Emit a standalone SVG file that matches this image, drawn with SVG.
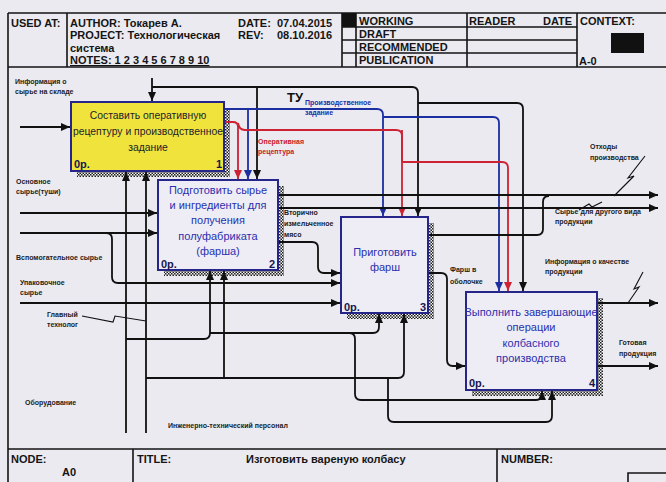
<svg xmlns="http://www.w3.org/2000/svg" width="666" height="482" viewBox="0 0 666 482">
<defs>
  <pattern id="hatch" width="3" height="3" patternUnits="userSpaceOnUse">
    <rect width="3" height="3" fill="#f4f4f4"/>
    <path d="M0,0h1.5v1.5h-1.5z M1.5,1.5h1.5v1.5h-1.5z" fill="#1e1e1e"/>
  </pattern>
  <marker id="ak" viewBox="0 0 9 8" refX="9" refY="4" markerWidth="9" markerHeight="8" markerUnits="userSpaceOnUse" orient="auto"><path d="M0,0 L9,4 L0,8 z" fill="#111"/></marker>
  <marker id="ab" viewBox="0 0 9 8" refX="9" refY="4" markerWidth="9" markerHeight="8" markerUnits="userSpaceOnUse" orient="auto"><path d="M0,0 L9,4 L0,8 z" fill="#1c2fa0"/></marker>
  <marker id="ar" viewBox="0 0 9 8" refX="9" refY="4" markerWidth="9" markerHeight="8" markerUnits="userSpaceOnUse" orient="auto"><path d="M0,0 L9,4 L0,8 z" fill="#cc2233"/></marker>
</defs>
<style>
  .fr{fill:none;stroke:#151515;stroke-width:1.6}
  .hd{font-family:"Liberation Sans",Arial,sans-serif;font-size:11px;font-weight:bold;fill:#151515}
  .box{stroke:#26268a;stroke-width:2}
  .sh{fill:url(#hatch)}
  .bt{font-family:"Liberation Sans",Arial,sans-serif;font-size:11px;fill:#2b2fae;text-anchor:middle}
  .bt1{fill:#1c1c2c;font-size:10.4px}
  .num{font-family:"Liberation Sans",Arial,sans-serif;font-size:11px;font-weight:bold;fill:#16164e}
  .lbl{font-family:"Liberation Sans",Arial,sans-serif;font-size:7px;font-weight:bold;fill:#1c1c1c}
  .lb{fill:#2030a8}
  .lr{fill:#c8202f}
  .ln{fill:none;stroke:#111;stroke-width:1.8}
  .k{marker-end:url(#ak)}
  .bl{stroke:#1c2fa0;marker-end:url(#ab)}
  .rd{stroke:#cc2233;marker-end:url(#ar)}
  .sq{fill:none;stroke:#111;stroke-width:1.1}
</style>
<rect width="666" height="482" fill="#ebeaf1"/>

<g id="header">
  <path class="fr" d="M8,13 H666 M8,67 H666 M67,13 V67 M342,13 V67 M356,13 V67 M467,13 V67 M577,13 V67 M342,27 H577 M342,40 H577 M342,53 H577"/>
  <rect x="342" y="13" width="14" height="14" fill="#111"/>
  <text class="hd" x="11" y="27">USED AT:</text>
  <text class="hd" x="70" y="27">AUTHOR: Токарев А.</text>
  <text class="hd" x="238" y="27">DATE:</text>
  <text class="hd" x="277" y="27">07.04.2015</text>
  <text class="hd" x="70" y="39">PROJECT: Технологическая</text>
  <text class="hd" x="238" y="39">REV:</text>
  <text class="hd" x="277" y="39">08.10.2016</text>
  <text class="hd" x="70" y="52">система</text>
  <text class="hd" x="70" y="64" text-decoration="underline">NOTES: 1 2 3 4 5 6 7 8 9 10</text>
  <text class="hd" x="359" y="25">WORKING</text>
  <text class="hd" x="359" y="38">DRAFT</text>
  <text class="hd" x="359" y="51">RECOMMENDED</text>
  <text class="hd" x="359" y="64">PUBLICATION</text>
  <text class="hd" x="469" y="25">READER</text>
  <text class="hd" x="543" y="25">DATE</text>
  <text class="hd" x="580" y="25">CONTEXT:</text>
  <rect x="611" y="33" width="33" height="20" fill="#111"/>
  <text class="hd" x="579" y="65">A-0</text>
</g>

<path class="fr" d="M8,13 V482"/>

<g id="footer">
  <path class="fr" d="M8,449 H666 M133,449 V482 M497,449 V482 M628,482 V473 H666"/>
  <text class="hd" x="11" y="463">NODE:</text>
  <text class="hd" x="62" y="476">A0</text>
  <text class="hd" x="137" y="463">TITLE:</text>
  <text class="hd" x="246" y="463">Изготовить вареную  колбасу</text>
  <text class="hd" x="501" y="463">NUMBER:</text>
</g>

<g id="shadows">
  <rect class="sh" x="77" y="108" width="153" height="69"/>
  <rect class="sh" x="164" y="186" width="120" height="90"/>
  <rect class="sh" x="347" y="223" width="87" height="96"/>
  <rect class="sh" x="472" y="298" width="131" height="98"/>
</g>

<g id="connectors">
  <path class="ln k" d="M20,127 H70"/>
  <path class="ln k" d="M152,78 V101"/>
  <path class="ln k" d="M152,87 H412 Q418,87 418,93 V216"/>
  <path class="ln k" d="M257,87 V179"/>
  <path class="ln k" d="M418,103 H517 Q523,103 523,109 V291"/>
  <path class="ln bl" d="M225,109 H377 Q383,109 383,115 V216"/>
  <path class="ln bl" d="M248,109 V179"/>
  <path class="ln bl" d="M383,117 H493 Q499,117 499,123 V291"/>
  <path class="ln rd" d="M225,122 H233 Q238,122 238,127 V179"/>
  <path class="ln" style="stroke:#cc2233" d="M238,123 Q239,130 245,130 H396 Q402,130 402,136 V162"/>
  <path class="ln rd" d="M402,130 V216"/>
  <path class="ln rd" d="M402,162 H502 Q508,162 508,168 V291"/>
  <path class="ln k" d="M20,213 H157"/>
  <path class="ln k" d="M20,233 H157"/>
  <path class="ln k" d="M106,233 Q112,233 112,239 V277 Q112,283 118,283 H340"/>
  <path class="ln k" d="M20,303 H340"/>
  <path class="ln k" d="M279,195 H658"/>
  <path class="ln k" d="M279,208 H658"/>
  <path class="ln k" d="M279,242 H312 Q318,242 318,248 V267 Q318,273 324,273 H340"/>
  <path class="ln" d="M429,235 H537 Q543,235 543,229 V202 Q543,196 549,196"/>
  <path class="ln k" d="M429,273 H441 Q447,273 447,279 V360 Q447,366 453,366 H465"/>
  <path class="ln k" d="M598,303 H658"/>
  <path class="ln k" d="M598,366 H658"/>
  <path class="ln k" d="M126,433 V172"/>
  <path class="ln k" d="M146,433 V172"/>
  <path class="ln k" d="M126,339 H204 Q210,339 210,333 V271"/>
  <path class="ln k" d="M210,333 H373 Q379,333 379,327 V314"/>
  <path class="ln k" d="M349,333 Q355,333 355,339 V394 Q355,400 361,400 H536 Q542,400 542,394 V391"/>
  <path class="ln k" d="M146,378 H398 Q404,378 404,372 V314"/>
  <path class="ln k" d="M224,378 V271"/>
  <path class="ln k" d="M388,378 V416 Q388,422 394,422 H546 Q552,422 552,416 V391"/>
  <path class="sq" d="M82,316 L113,322 L115,316 L146,321"/>
  <path class="sq" d="M645,156 L628,178 L634,176 L614,196"/>
  <path class="sq" d="M579,210 L589,204 L592,207 L602,202"/>
  <path class="sq" d="M643,272 L634,289 L639,287 L628,303"/>
</g>

<g id="box1">
  <rect class="box" x="71" y="102" width="153" height="69" fill="#f0e43c"/>
  <text class="bt bt1" x="148" y="119">Составить оперативную</text>
  <text class="bt bt1" x="148" y="135">рецептуру и производственное</text>
  <text class="bt bt1" x="148" y="151">задание</text>
  <text class="num" x="74" y="168">0р.</text>
  <text class="num" x="222" y="168" text-anchor="end">1</text>
</g>

<g id="box2">
  <rect class="box" x="158" y="180" width="120" height="90" fill="#eeedf5"/>
  <text class="bt" x="218" y="194">Подготовить сырье</text>
  <text class="bt" x="218" y="209">и ингредиенты для</text>
  <text class="bt" x="218" y="224">получения</text>
  <text class="bt" x="218" y="240">полуфабриката</text>
  <text class="bt" x="218" y="255">(фарша)</text>
  <text class="num" x="161" y="268">0р.</text>
  <text class="num" x="275" y="268" text-anchor="end">2</text>
</g>

<g id="box3">
  <rect class="box" x="341" y="217" width="87" height="96" fill="#eeedf5"/>
  <text class="bt" x="385" y="256">Приготовить</text>
  <text class="bt" x="385" y="271">фарш</text>
  <text class="num" x="344" y="311">0р.</text>
  <text class="num" x="426" y="311" text-anchor="end">3</text>
</g>

<g id="box4">
  <rect class="box" x="466" y="292" width="131" height="98" fill="#eeedf5"/>
  <text class="bt" x="531" y="316">Выполнить завершающие</text>
  <text class="bt" x="531" y="331">операции</text>
  <text class="bt" x="531" y="347">колбасного</text>
  <text class="bt" x="531" y="362">производства</text>
  <text class="num" x="469" y="387">0р.</text>
  <text class="num" x="595" y="387" text-anchor="end">4</text>
</g>

<g id="labels">
  <text class="lbl" x="15" y="84">Информация о</text>
  <text class="lbl" x="15" y="94">сырье на складе</text>
  <text class="lbl" x="16" y="184">Основное</text>
  <text class="lbl" x="16" y="194">сырье(туши)</text>
  <text class="lbl" x="16" y="260">Вспомогательное сырье</text>
  <text class="lbl" x="20" y="285">Упаковочное</text>
  <text class="lbl" x="20" y="295">сырье</text>
  <text class="lbl" x="47" y="317">Главный</text>
  <text class="lbl" x="47" y="327">технолог</text>
  <text class="lbl" x="25" y="405">Оборудование</text>
  <text class="lbl" x="168" y="428">Инженерно-технический персонал</text>
  <text x="287" y="102" style="font-family:'Liberation Sans',Arial,sans-serif;font-size:13px;font-weight:bold;fill:#111">ТУ</text>
  <text class="lbl lb" x="305" y="105">Производственное</text>
  <text class="lbl lb" x="305" y="115">задание</text>
  <text class="lbl lr" x="258" y="144">Оперативная</text>
  <text class="lbl lr" x="258" y="154">рецептура</text>
  <text class="lbl" x="284" y="215">Вторично</text>
  <text class="lbl" x="284" y="226">измельченное</text>
  <text class="lbl" x="284" y="237">мясо</text>
  <text class="lbl" x="590" y="149">Отходы</text>
  <text class="lbl" x="590" y="160">производства</text>
  <text class="lbl" x="555" y="214">Сырье для другого вида</text>
  <text class="lbl" x="555" y="224">продукции</text>
  <text class="lbl" x="450" y="272">Фарш в</text>
  <text class="lbl" x="450" y="284">оболочке</text>
  <text class="lbl" x="545" y="264">Информация о качестве</text>
  <text class="lbl" x="545" y="274">продукции</text>
  <text class="lbl" x="619" y="345">Готовая</text>
  <text class="lbl" x="619" y="356">продукция</text>
</g>
</svg>
